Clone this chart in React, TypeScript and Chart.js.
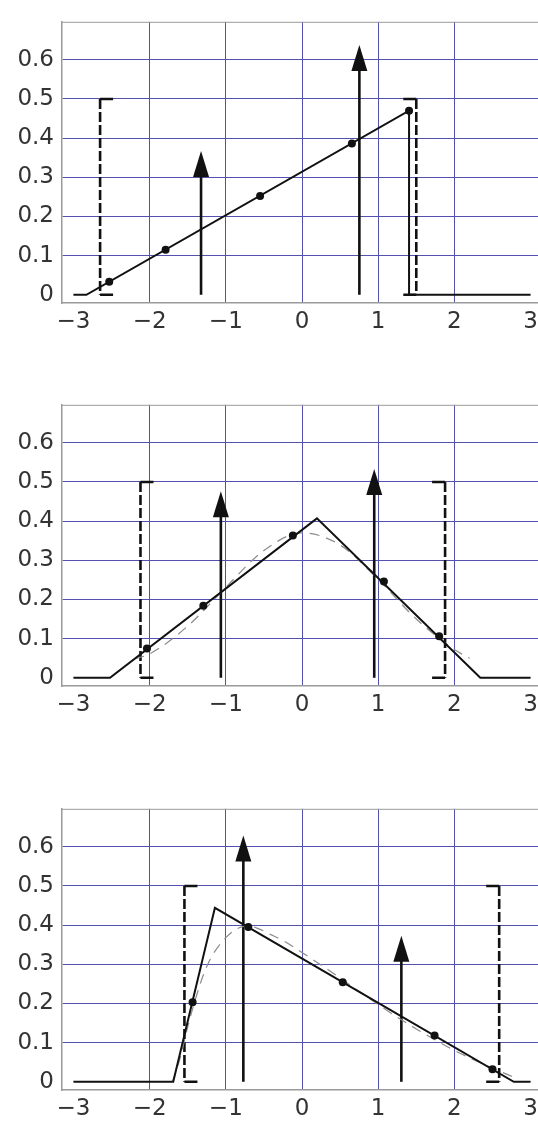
import React, { useEffect, useRef } from 'react';
import { Chart, registerables } from 'chart.js';

Chart.register(...registerables);

// ---- axes ----
const xTickValues = [-3, -2, -1, 0, 1, 2, 3];
const xTickLabels = ['−3', '−2', '−1', '0', '1', '2', '3'];
const yTickValues = [0, 0.1, 0.2, 0.3, 0.4, 0.5, 0.6];
const yTickLabels = ['0', '0.1', '0.2', '0.3', '0.4', '0.5', '0.6'];
const xRange = [-3.15, 3.15];
const yRange = [-0.021, 0.697];
const bracketHeight = 0.5;

// ---- panel 1 ----
const p1LineX = [-3, -2.83, 1.405, 1.405, 3];
const p1LineY = [0, 0, 0.47, 0, 0];
const p1DotX = [-2.53, -1.79, -0.55, 0.655, 1.405];
const p1DotY = [0.033, 0.115, 0.252, 0.386, 0.47];
const p1ArrowX = [-1.325, 0.753];
const p1ArrowH = [0.367, 0.638];
const p1Bracket = [-2.65, 1.5];
const p1CurveX: number[] = [];
const p1CurveY: number[] = [];

// ---- panel 2 ----
const p2LineX = [-3, -2.52, 0.196, 2.34, 3];
const p2LineY = [0, 0, 0.407, 0, 0];
const p2DotX = [-2.035, -1.295, -0.12, 1.075, 1.8];
const p2DotY = [0.075, 0.184, 0.363, 0.246, 0.106];
const p2ArrowX = [-1.065, 0.948];
const p2ArrowH = [0.476, 0.533];
const p2Bracket = [-2.12, 1.878];
const p2CurveX = [-2.2, -2, -1.5, -1, -0.5, 0, 0.5, 1, 1.5, 2, 2.2];
const p2CurveY = [0.048, 0.061, 0.132, 0.231, 0.325, 0.37, 0.339, 0.251, 0.15, 0.072, 0.05];

// ---- panel 3 ----
const p3LineX = [-3, -1.69, -1.143, 2.78, 3];
const p3LineY = [0, 0, 0.444, 0, 0];
const p3DotX = [-1.436, -0.705, 0.535, 1.74, 2.5];
const p3DotY = [0.203, 0.395, 0.254, 0.118, 0.032];
const p3ArrowX = [-0.77, 1.304];
const p3ArrowH = [0.629, 0.373];
const p3Bracket = [-1.543, 2.588];
const p3CurveX = [-1.7, -1.6, -1.5, -1.4, -1.3, -1.2, -1.1, -1.0, -0.9, -0.8, -0.7, -0.6, -0.4, -0.2, 0, 0.25, 0.5, 1.0, 1.5, 2.0, 2.5, 2.8];
const p3CurveY = [0.0, 0.06, 0.14, 0.21, 0.27, 0.315, 0.345, 0.368, 0.385, 0.395, 0.398, 0.393, 0.375, 0.355, 0.33, 0.298, 0.265, 0.197, 0.135, 0.08, 0.035, 0.01];

type Panel = {
  lineX: number[]; lineY: number[];
  dotX: number[]; dotY: number[];
  arrowX: number[]; arrowH: number[];
  bracket: number[];
  curveX: number[]; curveY: number[];
};

const panels: Panel[] = [
  { lineX: p1LineX, lineY: p1LineY, dotX: p1DotX, dotY: p1DotY, arrowX: p1ArrowX, arrowH: p1ArrowH, bracket: p1Bracket, curveX: p1CurveX, curveY: p1CurveY },
  { lineX: p2LineX, lineY: p2LineY, dotX: p2DotX, dotY: p2DotY, arrowX: p2ArrowX, arrowH: p2ArrowH, bracket: p2Bracket, curveX: p2CurveX, curveY: p2CurveY },
  { lineX: p3LineX, lineY: p3LineY, dotX: p3DotX, dotY: p3DotY, arrowX: p3ArrowX, arrowH: p3ArrowH, bracket: p3Bracket, curveX: p3CurveX, curveY: p3CurveY },
];

const panelTops = [0, 383, 787];
const W = 546;
const H = 339;
const INK = '#111111';
const GRID = '#5252ac';
const FRAME = '#9a9a9a';
const FONT = { family: 'DejaVu Sans', size: 23 };

const zip = (xs: number[], ys: number[]) => xs.map((x, i) => ({ x, y: ys[i] }));

function makeMarksPlugin(p: Panel) {
  return {
    id: 'marks',
    beforeDatasetsDraw(chart: any) {
      const { ctx, chartArea } = chart;
      const xs = chart.scales.x;
      const ys = chart.scales.y;
      ctx.save();
      // top frame line
      ctx.strokeStyle = FRAME;
      ctx.lineWidth = 1;
      ctx.beginPath();
      ctx.moveTo(chartArea.left, chartArea.top + 0.5);
      ctx.lineTo(chartArea.right, chartArea.top + 0.5);
      ctx.stroke();

      // brackets
      const y0 = ys.getPixelForValue(0);
      const y1 = ys.getPixelForValue(bracketHeight);
      const serif = 13;
      p.bracket.forEach((bx, i) => {
        const px = xs.getPixelForValue(bx);
        const dir = i === 0 ? 1 : -1;
        ctx.strokeStyle = INK;
        ctx.lineWidth = 2.6;
        ctx.setLineDash([]);
        ctx.beginPath();
        ctx.moveTo(px + dir * serif, y1);
        ctx.lineTo(px, y1);
        ctx.moveTo(px + dir * serif, y0);
        ctx.lineTo(px, y0);
        ctx.stroke();
        ctx.setLineDash([10, 3]);
        ctx.beginPath();
        ctx.moveTo(px, y1);
        ctx.lineTo(px, y0);
        ctx.stroke();
      });
      ctx.setLineDash([]);

      // arrows (Dirac masses)
      const headLen = 26;
      const headHalf = 8;
      p.arrowX.forEach((ax, i) => {
        const px = xs.getPixelForValue(ax);
        const tip = ys.getPixelForValue(p.arrowH[i]);
        ctx.strokeStyle = INK;
        ctx.fillStyle = INK;
        ctx.lineWidth = 2.6;
        ctx.beginPath();
        ctx.moveTo(px, y0);
        ctx.lineTo(px, tip + headLen - 2);
        ctx.stroke();
        ctx.beginPath();
        ctx.moveTo(px, tip);
        ctx.lineTo(px + headHalf, tip + headLen);
        ctx.lineTo(px - headHalf, tip + headLen);
        ctx.closePath();
        ctx.fill();
      });
      ctx.restore();
    },
  };
}

function PanelChart({ panel, top }: { panel: Panel; top: number }) {
  const ref = useRef<HTMLCanvasElement | null>(null);
  useEffect(() => {
    if (!ref.current) return;
    const chart = new Chart(ref.current, {
      type: 'line',
      data: {
        datasets: [
          {
            type: 'scatter',
            data: zip(panel.dotX, panel.dotY),
            showLine: false,
            pointRadius: 4,
            pointBackgroundColor: INK,
            pointBorderWidth: 0,
            order: 0,
          } as any,
          {
            data: zip(panel.lineX, panel.lineY),
            borderColor: INK,
            borderWidth: 2,
            pointRadius: 0,
            tension: 0,
            order: 1,
          },
          {
            data: zip(panel.curveX, panel.curveY),
            borderColor: '#8c8c8c',
            borderWidth: 1.2,
            borderDash: [10, 7],
            pointRadius: 0,
            cubicInterpolationMode: 'monotone',
            order: 2,
          },
        ],
      },
      options: {
        animation: false,
        responsive: false,
        devicePixelRatio: 1,
        events: [],
        layout: { padding: { top: 7, right: 1, left: 0, bottom: 0 } },
        plugins: { legend: { display: false }, tooltip: { enabled: false } },
        scales: {
          x: {
            type: 'linear',
            min: xRange[0],
            max: xRange[1],
            afterBuildTicks: (s: any) => { s.ticks = xTickValues.map((v) => ({ value: v })); },
            afterFit: (s: any) => { s.height = 36; },
            ticks: {
              autoSkip: false,
              maxRotation: 0,
              padding: 5,
              color: '#333',
              font: FONT,
              callback: (v: any) => xTickLabels[xTickValues.indexOf(Number(v))] ?? '',
            },
            grid: {
              drawTicks: false,
              lineWidth: 1,
              color: (c: any) => (c.tick && Math.abs(c.tick.value) > 2.5 ? 'rgba(0,0,0,0)' : GRID),
            },
            border: { display: true, color: FRAME, width: 1.5 },
          },
          y: {
            type: 'linear',
            min: yRange[0],
            max: yRange[1],
            afterBuildTicks: (s: any) => { s.ticks = yTickValues.map((v) => ({ value: v })); },
            afterFit: (s: any) => { s.width = 62; },
            ticks: {
              padding: 8,
              color: '#333',
              font: FONT,
              callback: (v: any) => yTickLabels[yTickValues.indexOf(Number(v))] ?? '',
            },
            grid: {
              drawTicks: false,
              lineWidth: 1,
              color: (c: any) => (c.tick && c.tick.value === 0 ? 'rgba(0,0,0,0)' : GRID),
            },
            border: { display: true, color: FRAME, width: 1.5 },
          },
        },
      } as any,
      plugins: [makeMarksPlugin(panel)],
    });
    return () => chart.destroy();
  }, [panel]);
  return (
    <div style={{ position: 'absolute', left: 0, top, width: W, height: H }}>
      <canvas ref={ref} width={W} height={H} style={{ display: 'block', width: W, height: H }} />
    </div>
  );
}

export default function App() {
  return (
    <div style={{ position: 'absolute', left: 0, top: 0, width: 538, height: 1123, overflow: 'hidden', background: '#ffffff' }}>
      {panels.map((p, i) => (
        <PanelChart key={i} panel={p} top={panelTops[i]} />
      ))}
    </div>
  );
}
